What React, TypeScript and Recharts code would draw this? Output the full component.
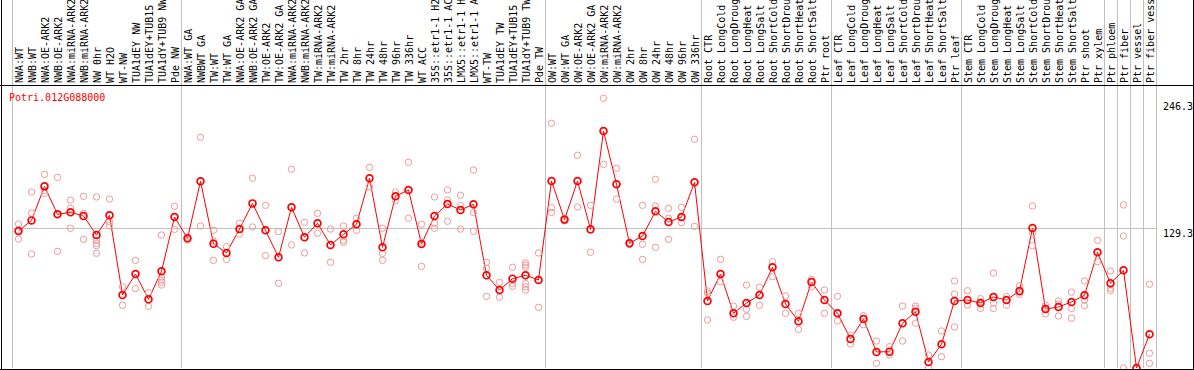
import React from 'react'
import { ComposedChart, Line, XAxis, YAxis, ReferenceLine } from 'recharts'

const title = 'Potri.012G088000'

const labels = [
    'NWA:WT', 'NWB:WT', 'NWA:OE-ARK2', 'NWB:OE-ARK2', 'NWA:miRNA-ARK2', 'NWB:miRNA-ARK2', 'NW 0hr', 'WT H2O',
    'WT-NW', 'TUA1dEY NW', 'TUA1dEY+TUB15 NW', 'TUA1dY+TUB9 NW', 'Pde NW',
    'NWA:WT GA', 'NWBWT GA', 'TW:WT', 'TW:WT GA', 'NWA:OE-ARK2 GA', 'NWB:OE-ARK2 GA', 'TW:OE-ARK2', 'TW:OE-ARK2 GA',
    'NWA:miRNA-ARK2', 'NWB:miRNA-ARK2', 'TW:miRNA-ARK2', 'TW:miRNA-ARK2', 'TW 2hr', 'TW 8hr', 'TW 24hr', 'TW 48hr',
    'TW 96hr', 'TW 336hr', 'WT ACC', '35S::etr1-1 H2O', '35S::etr1-1 ACC', 'LMX5::etr1-1 H2O', 'LMX5::etr1-1 ACC',
    'WT-TW', 'TUA1dEY TW', 'TUA1dEY+TUB15 TW', 'TUA1dY+TUB9 TW', 'Pde TW',
    'OW:WT', 'OW:WT GA', 'OW:OE-ARK2', 'OW:OE-ARK2 GA', 'OW:miRNA-ARK2', 'OW:miRNA-ARK2', 'OW 2hr', 'OW 8hr',
    'OW 24hr', 'OW 48hr', 'OW 96hr', 'OW 336hr',
    'Root CTR', 'Root LongCold', 'Root LongDrought', 'Root LongHeat', 'Root LongSalt', 'Root ShortCold',
    'Root ShortDrought', 'Root ShortHeat', 'Root ShortSalt', 'Ptr root',
    'Leaf CTR', 'Leaf LongCold', 'Leaf LongDrought', 'Leaf LongHeat', 'Leaf LongSalt', 'Leaf ShortCold',
    'Leaf ShortDrought', 'Leaf ShortHeat', 'Leaf ShortSalt', 'Ptr leaf',
    'Stem CTR', 'Stem LongCold', 'Stem LongDrought', 'Stem LongHeat', 'Stem LongSalt', 'Stem ShortCold',
    'Stem ShortDrought', 'Stem ShortHeat', 'Stem ShortSalt', 'Ptr shoot', 'Ptr xylem',
    'Ptr phloem', 'Ptr fiber', 'Ptr vessel', 'Ptr fiber vessel',
]

const means = [
    126.5, 136.3, 167.7, 141.9, 143.7, 140.4, 122.8, 141.0, 67.4, 86.8, 63.4, 89.3, 139.4,
    119.7, 172.4, 114.8, 106.2, 128.3, 152.0, 127.1, 102.2, 148.4, 120.7, 133.6, 113.6, 123.4, 132.7, 175.2,
    111.4, 158.5, 164.4, 114.5, 140.4, 151.4, 145.9, 151.1, 85.6, 72.0, 82.5, 85.6, 81.3,
    172.7, 137.0, 172.7, 128.0, 218.8, 169.6, 115.1, 121.9, 144.7, 134.8, 139.4, 171.4,
    61.9, 86.8, 50.5, 60.0, 67.4, 93.0, 59.1, 43.1, 79.4, 62.8,
    50.5, 26.8, 45.2, 14.8, 15.1, 41.3, 52.0, 5.5, 21.9, 61.9,
    62.8, 60.0, 65.6, 62.8, 71.1, 129.3, 54.5, 56.3, 61.0, 67.1, 106.8,
    78.2, 90.2, 0, 31.1,
]

const replicates = [
    [133, 119, 127], [162.5, 143, 105.3], [178.8, 161.3, 164], [176, 107.7, 142], [155, 147.4, 129],
    [158.5, 142.8, 118.8], [157.9, 118, 115, 113, 105.9], [156, 135, 131.4], [75, 57.9], [99.4, 73.3],
    [69.5, 56.9], [122.8, 84, 81, 79, 76.6], [149.3, 128],
    [121, 118], [213, 131.1], [127.1, 99.4, 117], [112, 100.3], [133.6, 123.7], [175.2, 130.2],
    [150.2, 103.7], [125.9, 78.2], [183.5, 113.6], [134.5, 106.2], [142.8, 124.4], [128.3, 97.6],
    [131.1, 116.1, 118], [138.2, 127.1], [185.3, 167.4], [129, 105.9, 99.4], [162.5, 154.5],
    [189.9, 138.2], [132.7, 93.9, 116], [157.9, 133.6, 129], [164.4, 155, 135.5], [159.5, 150, 128.3],
    [182.8, 143.7, 126.2], [97.6, 92, 66.2], [79.1, 65.3], [93, 75.4, 78], [97, 95, 93, 78, 75, 72],
    [106.2, 56],
    [225.9, 148, 143.7], [138, 136], [196.4, 148.7], [150.2, 106.8], [249, 188], [184.4, 156], [116, 114],
    [150.2, 114.2, 100.3], [174.2, 149.6, 111.4], [147.4, 138.2, 118.8], [148.4, 134.2], [211.2, 130.8],
    [71.1, 69, 44.3], [100.3, 79.7], [57.2, 46.8], [76.6, 54.2, 47.7], [74.5, 57.9], [98.2, 84.3],
    [66.5, 50.5], [50.5, 35.7], [81.9, 75], [72, 50.5],
    [66.2, 43.4], [30.5, 22.2], [48.3, 40], [24.9, 4.3], [19.7, 12], [57.2, 24.9], [57.2, 55, 41.3],
    [12, 0], [34.2, 10.5], [80.3, 68.3, 37.9],
    [71.4, 58.2], [64, 55, 61], [87.7, 60, 55], [66, 58, 63], [76, 68, 70], [149.6, 125, 113],
    [58, 50, 55], [62, 59, 48], [70, 55, 46], [80.3, 62.8, 57.5], [117.9, 98.2],
    [89.6, 73.6, 71.4], [150.5, 121.9, 0], [0, 0], [77.3, 13.6, 4.3],
]

const yTicks = [0, 129.3, 246.3]
// first category of each group, a grey divider is drawn before it
const groupStarts = [0, 13, 41, 53, 63, 73, 84, 85, 86, 87]

const FONT = '"DejaVu Sans Mono", monospace'
const REP_COLOR = '#ee9a9a'
const maxReps = Math.max(...replicates.map((r) => r.length))

const rows = labels.map((name, idx) => {
    const row: Record<string, number | string | null> = { idx, name, mean: means[idx] }
    for (let k = 0; k < maxReps; k++) row['r' + k] = replicates[idx][k] ?? null
    return row
})

// eslint-disable-next-line @typescript-eslint/no-explicit-any
const TopTick = ({ x, payload }: any) => {
    const i = payload.value as number
    return (
        <g>
            {groupStarts.includes(i) && <line x1={x - 6} x2={x - 6} y1={0} y2={85} stroke="#c0c0c0" />}
            {i === labels.length - 1 && <line x1={x + 7} x2={x + 7} y1={0} y2={85} stroke="#c0c0c0" />}
            <text
                transform={`translate(${x + 4},83) rotate(-90)`}
                textAnchor="start"
                fontFamily={FONT}
                fontSize={10}
                fill="#000"
            >
                {labels[i]}
            </text>
        </g>
    )
}

// eslint-disable-next-line @typescript-eslint/no-explicit-any
const RightTick = ({ x, y, payload }: any) => (
    <text x={x - 1} y={payload.value === 0 ? y - 2 : y + 9} textAnchor="start" fontFamily={FONT} fontSize={10} fill="#000">
        {payload.value}
    </text>
)

// eslint-disable-next-line @typescript-eslint/no-explicit-any
const CrispLine = (p: any) => (
    <line x1={p.x1 + 0.5} x2={p.x2 + 0.5} y1={p.y1} y2={p.y2} stroke="#c0c0c0" strokeWidth={1} />
)
// eslint-disable-next-line @typescript-eslint/no-explicit-any
const CrispHLine = (p: any) => (
    <line x1={p.x1} x2={p.x2} y1={p.y1 + 0.5} y2={p.y2 + 0.5} stroke="#c0c0c0" strokeWidth={1} />
)

export default function App() {
    return (
        <div style={{ position: 'relative', width: 1194, height: 370, background: '#fff' }}>
            <style>{'body{margin:0}'}</style>
            <ComposedChart width={1194} height={370} data={rows} margin={{ top: 0, right: 0, bottom: 2, left: 12 }}>
                <XAxis
                    dataKey="idx"
                    type="category"
                    scale="band"
                    orientation="top"
                    height={85}
                    interval={0}
                    axisLine={false}
                    tickLine={false}
                    tick={(p) => <TopTick {...p} />}
                />
                <YAxis
                    orientation="right"
                    width={38}
                    domain={[0, 261.3]}
                    ticks={yTicks}
                    axisLine={false}
                    tickLine={false}
                    tick={(p) => <RightTick {...p} />}
                />
                {groupStarts.map((g) => (
                    <ReferenceLine key={g} x={g} position="start" shape={CrispLine} />
                ))}
                <ReferenceLine x={labels.length - 1} position="end" shape={CrispLine} />
                <ReferenceLine y={129.3} shape={CrispHLine} />
                {Array.from({ length: maxReps }, (_, k) => (
                    <Line
                        key={k}
                        dataKey={'r' + k}
                        stroke="none"
                        dot={{ r: 3.2, stroke: REP_COLOR, strokeWidth: 1, fill: 'none' }}
                        activeDot={false}
                        isAnimationActive={false}
                    />
                ))}
                <Line
                    dataKey="mean"
                    stroke="#ff0000"
                    strokeWidth={1}
                    dot={{ r: 3.4, stroke: '#ff0000', strokeWidth: 1.7, fill: 'none' }}
                    activeDot={false}
                    isAnimationActive={false}
                />
            </ComposedChart>
            <svg width={1194} height={370} style={{ position: 'absolute', left: 0, top: 0, pointerEvents: 'none' }}>
                <line x1={1.5} x2={1.5} y1={0} y2={370} stroke="#000" />
                <line x1={1193.5} x2={1193.5} y1={0} y2={370} stroke="#000" />
                <line x1={0} x2={1194} y1={369.5} y2={369.5} stroke="#000" />
                <line x1={0} x2={1194} y1={85.5} y2={85.5} stroke="#000" />
                <text x={9} y={101} fontFamily={FONT} fontSize={10} fill="#ff0000">
                    {title}
                </text>
            </svg>
        </div>
    )
}
